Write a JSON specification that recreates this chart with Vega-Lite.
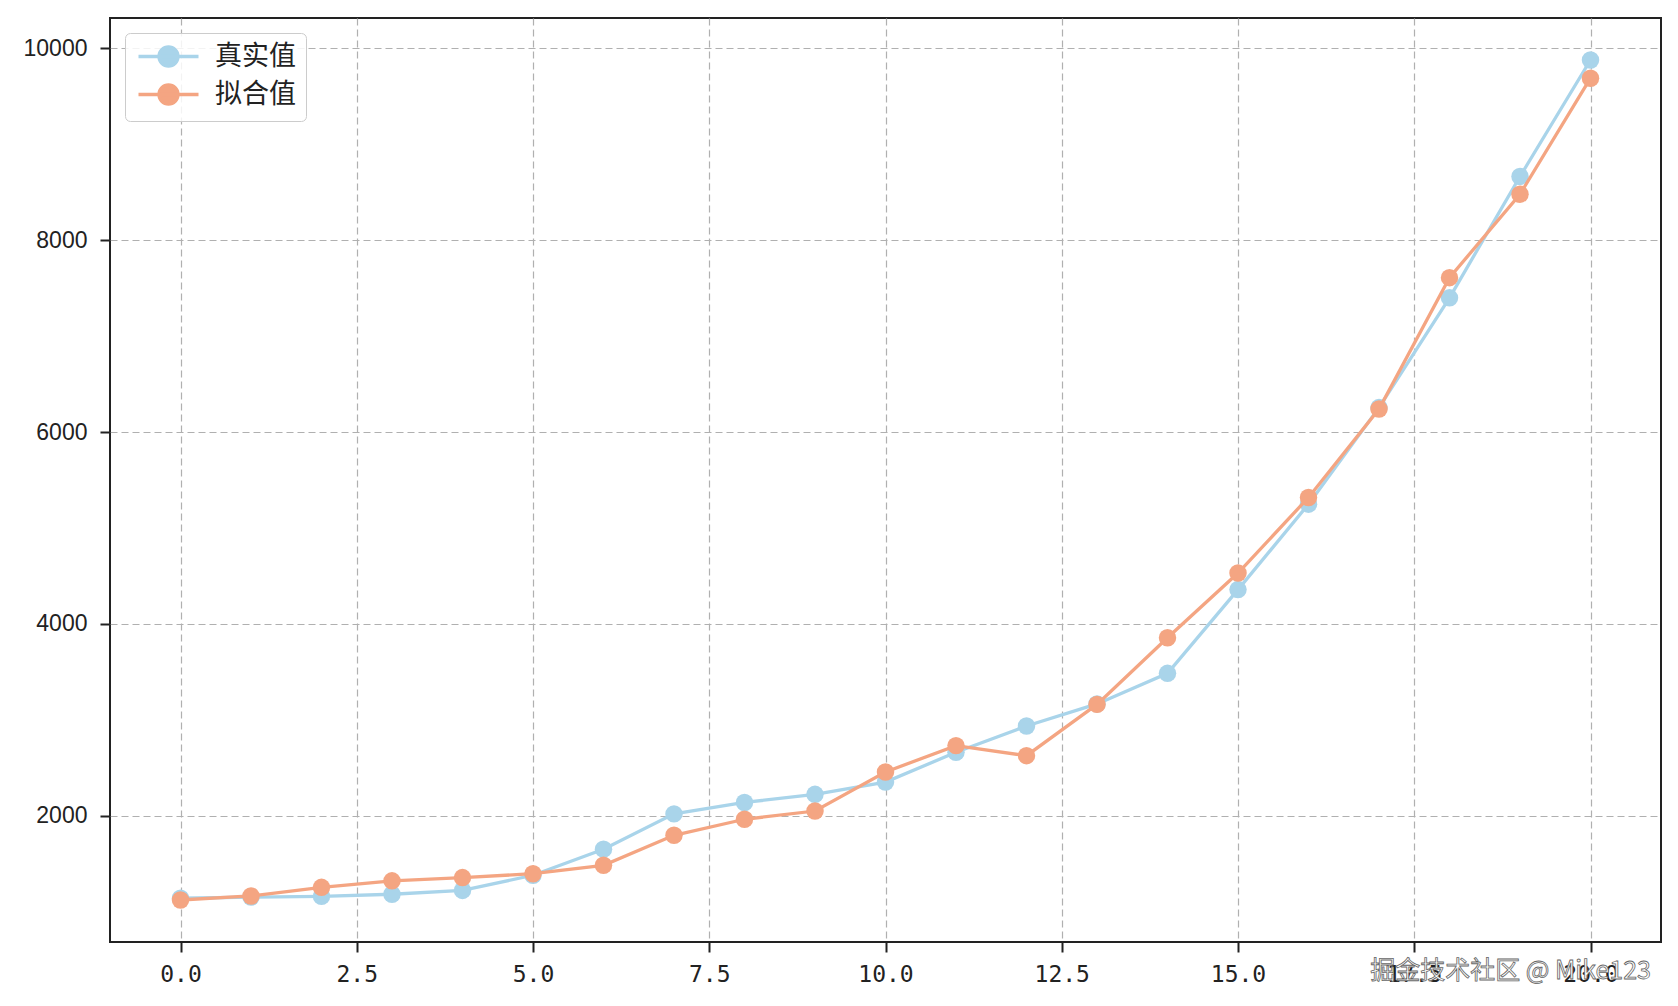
{
  "$schema": "https://vega.github.io/schema/vega-lite/v6.json",
  "width": 1551,
  "height": 924,
  "autosize": {"type": "none"},
  "padding": {"left": 110, "top": 18, "right": 17, "bottom": 64},
  "background": "white",
  "title": {
    "text": "掘金技术社区 @ Mike123",
    "orient": "bottom",
    "anchor": "end",
    "offset": -27,
    "dx": -10,
    "font": "Noto Sans CJK SC",
    "fontSize": 25,
    "fontWeight": "normal",
    "color": "white",
    "style": "watermark"
  },
  "data": {
    "values": [
      {"x": 0, "series": "真实值", "value": 1138},
      {"x": 1, "series": "真实值", "value": 1150},
      {"x": 2, "series": "真实值", "value": 1158},
      {"x": 3, "series": "真实值", "value": 1180},
      {"x": 4, "series": "真实值", "value": 1220},
      {"x": 5, "series": "真实值", "value": 1378},
      {"x": 6, "series": "真实值", "value": 1650},
      {"x": 7, "series": "真实值", "value": 2018},
      {"x": 8, "series": "真实值", "value": 2137},
      {"x": 9, "series": "真实值", "value": 2222},
      {"x": 10, "series": "真实值", "value": 2350},
      {"x": 11, "series": "真实值", "value": 2660},
      {"x": 12, "series": "真实值", "value": 2935},
      {"x": 13, "series": "真实值", "value": 3165},
      {"x": 14, "series": "真实值", "value": 3484},
      {"x": 15, "series": "真实值", "value": 4357},
      {"x": 16, "series": "真实值", "value": 5248},
      {"x": 17, "series": "真实值", "value": 6255},
      {"x": 18, "series": "真实值", "value": 7400},
      {"x": 19, "series": "真实值", "value": 8665},
      {"x": 20, "series": "真实值", "value": 9880},
      {"x": 0, "series": "拟合值", "value": 1120},
      {"x": 1, "series": "拟合值", "value": 1162},
      {"x": 2, "series": "拟合值", "value": 1252},
      {"x": 3, "series": "拟合值", "value": 1320},
      {"x": 4, "series": "拟合值", "value": 1354},
      {"x": 5, "series": "拟合值", "value": 1394},
      {"x": 6, "series": "拟合值", "value": 1482},
      {"x": 7, "series": "拟合值", "value": 1795},
      {"x": 8, "series": "拟合值", "value": 1962},
      {"x": 9, "series": "拟合值", "value": 2048},
      {"x": 10, "series": "拟合值", "value": 2455},
      {"x": 11, "series": "拟合值", "value": 2730},
      {"x": 12, "series": "拟合值", "value": 2625},
      {"x": 13, "series": "拟合值", "value": 3160},
      {"x": 14, "series": "拟合值", "value": 3855},
      {"x": 15, "series": "拟合值", "value": 4530},
      {"x": 16, "series": "拟合值", "value": 5318},
      {"x": 17, "series": "拟合值", "value": 6240},
      {"x": 18, "series": "拟合值", "value": 7610},
      {"x": 19, "series": "拟合值", "value": 8480},
      {"x": 20, "series": "拟合值", "value": 9690}
    ]
  },
  "encoding": {
    "x": {
      "field": "x",
      "type": "quantitative",
      "scale": {"domain": [-1, 21], "nice": false, "zero": false},
      "axis": {
        "title": null,
        "values": [0, 2.5, 5, 7.5, 10, 12.5, 15, 17.5, 20],
        "format": ".1f",
        "labelFont": "DejaVu Sans Mono",
        "labelFontSize": 23,
        "labelColor": "#222222",
        "labelPadding": 11,
        "tickSize": 10,
        "tickWidth": 2,
        "tickColor": "#222222",
        "domain": false,
        "grid": true,
        "gridColor": "#b0b0b0",
        "gridDash": [7, 4],
        "gridWidth": 1.2
      }
    },
    "y": {
      "field": "value",
      "type": "quantitative",
      "scale": {"domain": [682, 10318], "nice": false, "zero": false},
      "axis": {
        "title": null,
        "values": [2000, 4000, 6000, 8000, 10000],
        "format": "d",
        "labelFont": "Liberation Sans",
        "labelFontSize": 23,
        "labelColor": "#222222",
        "labelPadding": 13,
        "tickSize": 10,
        "tickWidth": 2,
        "tickColor": "#222222",
        "domain": false,
        "grid": true,
        "gridColor": "#b0b0b0",
        "gridDash": [7, 4],
        "gridWidth": 1.2
      }
    },
    "color": {
      "field": "series",
      "type": "nominal",
      "scale": {"domain": ["真实值", "拟合值"], "range": ["#a9d4ea", "#f4a582"]},
      "legend": {
        "title": null,
        "orient": "top-left",
        "offset": 15,
        "symbolType": "M-1,0H5M1.05,0A0.95,0.95,0,1,1,2.95,0A0.95,0.95,0,1,1,1.05,0Z",
        "symbolSize": 400,
        "symbolStrokeWidth": 3.3,
        "symbolOpacity": 1,
        "labelFont": "Noto Sans CJK SC",
        "labelFontSize": 27,
        "labelColor": "#222222",
        "labelOffset": 53,
        "rowPadding": 5,
        "padding": 10,
        "strokeColor": "#cccccc",
        "fillColor": "rgba(255,255,255,0.85)",
        "cornerRadius": 5,
        "encode": {
          "symbols": {
            "update": {
              "fill": {"scale": "color", "field": "value"},
              "stroke": {"scale": "color", "field": "value"},
              "opacity": {"value": 1}
            }
          }
        }
      }
    }
  },
  "layer": [
    {
      "transform": [{"filter": "datum.series === '真实值'"}],
      "mark": {"type": "line", "strokeWidth": 3.3}
    },
    {
      "transform": [{"filter": "datum.series === '真实值'"}],
      "mark": {"type": "point", "filled": true, "opacity": 1, "size": 305}
    },
    {
      "transform": [{"filter": "datum.series === '拟合值'"}],
      "mark": {"type": "line", "strokeWidth": 3.3}
    },
    {
      "transform": [{"filter": "datum.series === '拟合值'"}],
      "mark": {"type": "point", "filled": true, "opacity": 1, "size": 305}
    }
  ],
  "config": {
    "view": {"stroke": "#222222", "strokeWidth": 2},
    "style": {
      "watermark": {"stroke": "#666666", "strokeWidth": 0.8}
    }
  }
}
